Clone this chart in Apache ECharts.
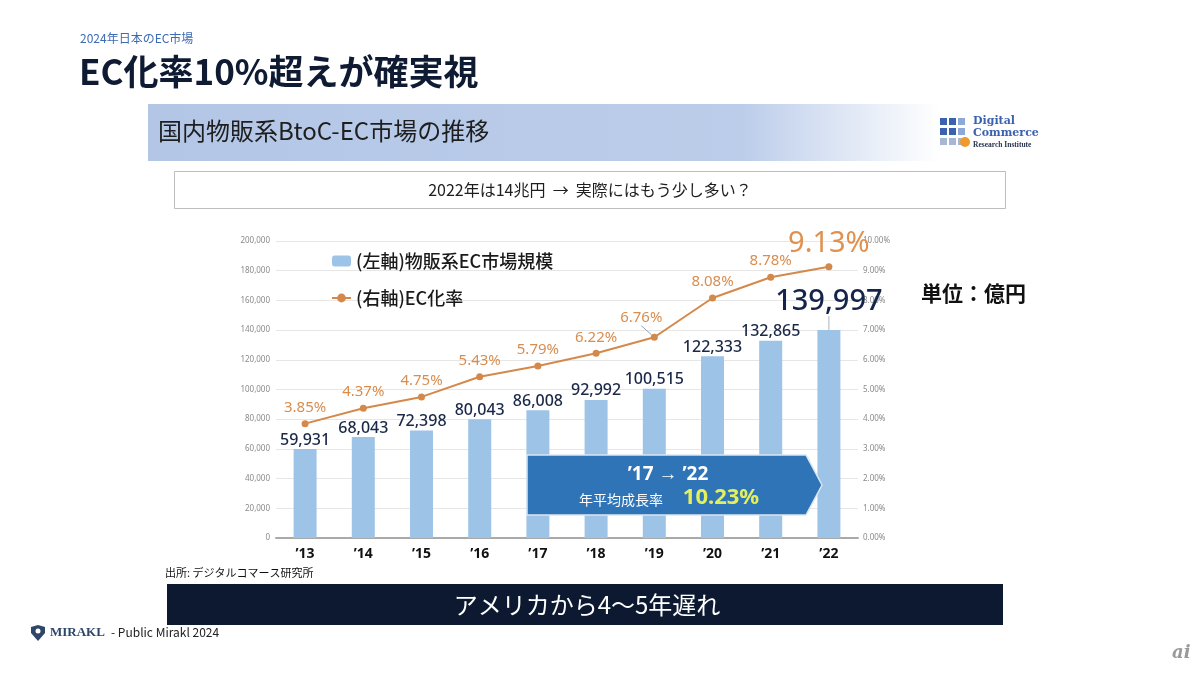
<!DOCTYPE html>
<html>
<head>
<meta charset="utf-8">
<script src="https://cdn.jsdelivr.net/npm/echarts@6/dist/echarts.min.js"></script>
<style>
html,body{margin:0;padding:0;background:#fff;}
#c{width:1200px;height:675px;}
</style>
</head>
<body>
<div id="c"></div>
<script>
const years = ["’13","’14","’15","’16","’17","’18","’19","’20","’21","’22"];
const marketSize = [59931, 68043, 72398, 80043, 86008, 92992, 100515, 122333, 132865, 139997];
const ecRate = [3.85, 4.37, 4.75, 5.43, 5.79, 6.22, 6.76, 8.08, 8.78, 9.13];
const leftTicks = {min: 0, max: 200000, interval: 20000};
const rightTicks = {min: 0, max: 10, interval: 1};

const FONT = '"Noto Sans CJK JP", "Noto Sans", sans-serif';
const NUMFONT = '"Noto Sans", "Open Sans", sans-serif';
const BAR_COLOR = '#9DC3E6';
const LINE_COLOR = '#D4894B';
const LAST = marketSize.length - 1;
const SHIFTED_RATE = 6; // index of the rate label pulled left with a leader

const barData = marketSize.map((v, i) => i === LAST
  ? {value: v, label: {fontSize: 29, color: '#14244A'},
     labelLine: {show: true, lineStyle: {color: '#AAB4C4', width: 1}}}
  : {value: v, labelLine: {show: false}});
const lineData = ecRate.map((v, i) => {
  if (i === LAST) return {value: v, label: {fontSize: 29, color: '#E0914F'}, labelLine: {show: false}};
  if (i === SHIFTED_RATE) return {value: v, labelLine: {show: true, lineStyle: {color: '#98A2B0', width: 1}}};
  return {value: v, labelLine: {show: false}};
});

const chart = echarts.init(document.getElementById('c'));
chart.setOption({
  backgroundColor: '#ffffff',
  animation: false,
  textStyle: {fontFamily: FONT},
  grid: {left: 276, right: 342, top: 241, bottom: 137, containLabel: false},
  legend: {
    orient: 'vertical',
    left: 326, top: 247,
    itemWidth: 19, itemHeight: 11, itemGap: 19,
    textStyle: {fontSize: 18, color: '#1a1a1a', fontFamily: FONT, fontWeight: 500},
    data: ['(左軸)物販系EC市場規模', '(右軸)EC化率']
  },
  xAxis: {
    type: 'category',
    data: years,
    axisLine: {lineStyle: {color: '#A9A9A9', width: 2}},
    axisTick: {show: false},
    axisLabel: {color: '#111', fontSize: 14, fontWeight: 'bold', margin: 9, fontFamily: NUMFONT}
  },
  yAxis: [
    {
      type: 'value', min: leftTicks.min, max: leftTicks.max, interval: leftTicks.interval,
      axisLine: {show: false}, axisTick: {show: false},
      axisLabel: {color: '#8a8a8a', fontSize: 8, margin: 6, fontFamily: NUMFONT,
        formatter: v => v.toLocaleString('en-US')},
      splitLine: {lineStyle: {color: '#E6E6E6', width: 1}}
    },
    {
      type: 'value', min: rightTicks.min, max: rightTicks.max, interval: rightTicks.interval,
      axisLine: {show: false}, axisTick: {show: false},
      axisLabel: {color: '#8a8a8a', fontSize: 8, margin: 5, fontFamily: NUMFONT,
        formatter: v => v.toFixed(2) + '%'},
      splitLine: {show: false}
    }
  ],
  series: [
    {
      name: '(左軸)物販系EC市場規模',
      type: 'bar',
      data: barData,
      barWidth: 23,
      itemStyle: {color: BAR_COLOR},
      label: {
        show: true, position: 'top', distance: 1,
        color: '#1B2848', fontSize: 16, fontWeight: 500, fontFamily: NUMFONT,
        formatter: p => p.value.toLocaleString('en-US')
      },
      labelLayout: p => p.dataIndex === LAST ? {dy: -13} : {},
      z: 2
    },
    {
      name: '(右軸)EC化率',
      type: 'line',
      yAxisIndex: 1,
      data: lineData,
      symbol: 'circle', symbolSize: 7,
      lineStyle: {color: LINE_COLOR, width: 2},
      itemStyle: {color: LINE_COLOR},
      label: {
        show: true, position: 'top', distance: 5,
        color: '#D98D4E', fontSize: 15, fontFamily: NUMFONT,
        formatter: p => p.value.toFixed(2) + '%'
      },
      labelLayout: p => p.dataIndex === SHIFTED_RATE ? {dx: -13, dy: -3} : {},
      z: 3
    }
  ],
  graphic: [
    {type: 'text', x: 80, y: 32, style: {text: '2024年日本のEC市場', font: '12px ' + FONT, fill: '#3D6BB3'}},
    {type: 'text', x: 79, y: 54, style: {text: 'EC化率10%超えが確実視', font: 'bold 35px ' + FONT, fill: '#0F1B33'}},
    {type: 'rect', shape: {x: 148, y: 104, width: 792, height: 57},
      style: {fill: new echarts.graphic.LinearGradient(0, 0, 1, 0, [
        {offset: 0, color: '#B3C6E6'}, {offset: 0.75, color: '#BCCDEA'}, {offset: 1, color: '#FFFFFF'}])}},
    {type: 'text', x: 158, y: 119, style: {text: '国内物販系BtoC-EC市場の推移', font: '24px ' + FONT, fill: '#1E1E1E'}},
    // logo
    {type: 'group', x: 940, y: 118, children: [
      {type: 'rect', shape: {x: 0, y: 0, width: 7, height: 7}, style: {fill: '#3A62AE'}},
      {type: 'rect', shape: {x: 9, y: 0, width: 7, height: 7}, style: {fill: '#3A62AE'}},
      {type: 'rect', shape: {x: 18, y: 0, width: 7, height: 7}, style: {fill: '#8EA8D8'}},
      {type: 'rect', shape: {x: 0, y: 10, width: 7, height: 7}, style: {fill: '#3A62AE'}},
      {type: 'rect', shape: {x: 9, y: 10, width: 7, height: 7}, style: {fill: '#3A62AE'}},
      {type: 'rect', shape: {x: 18, y: 10, width: 7, height: 7}, style: {fill: '#8EA8D8'}},
      {type: 'rect', shape: {x: 0, y: 20, width: 7, height: 7}, style: {fill: '#A6B6D4'}},
      {type: 'rect', shape: {x: 9, y: 20, width: 7, height: 7}, style: {fill: '#A6B6D4'}},
      {type: 'rect', shape: {x: 18, y: 20, width: 7, height: 7}, style: {fill: '#A6B6D4'}},
      {type: 'circle', shape: {cx: 25, cy: 24, r: 5}, style: {fill: '#EE9A2E'}},
      {type: 'text', x: 33, y: -2, style: {text: 'Digital', font: 'bold 11px "DejaVu Serif", serif', fill: '#3A62AE'}},
      {type: 'text', x: 33, y: 10, style: {text: 'Commerce', font: 'bold 11px "DejaVu Serif", serif', fill: '#3A62AE'}},
      {type: 'text', x: 33, y: 23, style: {text: 'Research Institute', font: 'bold 7.5px "Liberation Serif", serif', fill: '#2A3550'}}
    ]},
    {type: 'rect', shape: {x: 174.5, y: 171.5, width: 831, height: 37}, style: {fill: '#fff', stroke: '#BDBDBD', lineWidth: 1}},
    {type: 'text', x: 590, y: 190, style: {text: '2022年は14兆円  →  実際にはもう少し多い？', font: '16px ' + FONT, fill: '#1E1E1E', align: 'center', verticalAlign: 'middle'}},
    {type: 'text', x: 921, y: 283, style: {text: '単位：億円', font: 'bold 21px ' + FONT, fill: '#111'}},
    // arrow box
    {type: 'polygon', z: 10, shape: {points: [[527, 455], [806, 455], [822, 485], [806, 515], [527, 515]]},
      style: {fill: '#2E74B7', stroke: '#DCE6F2', lineWidth: 1.5}},
    {type: 'text', z: 11, x: 668, y: 475, style: {text: '’17 → ’22', font: 'bold 19px ' + NUMFONT, fill: '#ffffff', align: 'center', verticalAlign: 'middle'}},
    {type: 'text', z: 11, x: 621, y: 500, style: {text: '年平均成長率', font: '14px ' + FONT, fill: '#ffffff', align: 'center', verticalAlign: 'middle'}},
    {type: 'text', z: 11, x: 721, y: 498, style: {text: '10.23%', font: 'bold 22px ' + NUMFONT, fill: '#E4EF5C', align: 'center', verticalAlign: 'middle'}},
    // source + bottom banner
    {type: 'text', x: 165, y: 567, style: {text: '出所: デジタルコマース研究所', font: '11px ' + FONT, fill: '#111'}},
    {type: 'rect', shape: {x: 167, y: 584, width: 836, height: 41}, style: {fill: '#0C1930'}},
    {type: 'text', x: 587, y: 605, style: {text: 'アメリカから4〜5年遅れ', font: '24px ' + FONT, fill: '#ffffff', align: 'center', verticalAlign: 'middle'}},
    // footer
    {type: 'polygon', shape: {points: [[31, 627], [38, 625], [45, 627], [45, 633], [38, 641], [31, 633]]}, style: {fill: '#2D4669'}},
    {type: 'circle', shape: {cx: 38, cy: 631, r: 2.5}, style: {fill: '#ffffff'}},
    {type: 'text', x: 50, y: 626, style: {text: 'MIRAKL', font: 'bold 13px "Liberation Serif", serif', fill: '#2D4669'}},
    {type: 'text', x: 111, y: 626, style: {text: '- Public Mirakl 2024', font: '12px ' + FONT, fill: '#222'}},
    {type: 'text', x: 1172, y: 644, style: {text: 'ai', font: 'italic bold 18px "DejaVu Serif", serif', fill: '#9A9A9A'}}
  ]
});
</script>
</body>
</html>
